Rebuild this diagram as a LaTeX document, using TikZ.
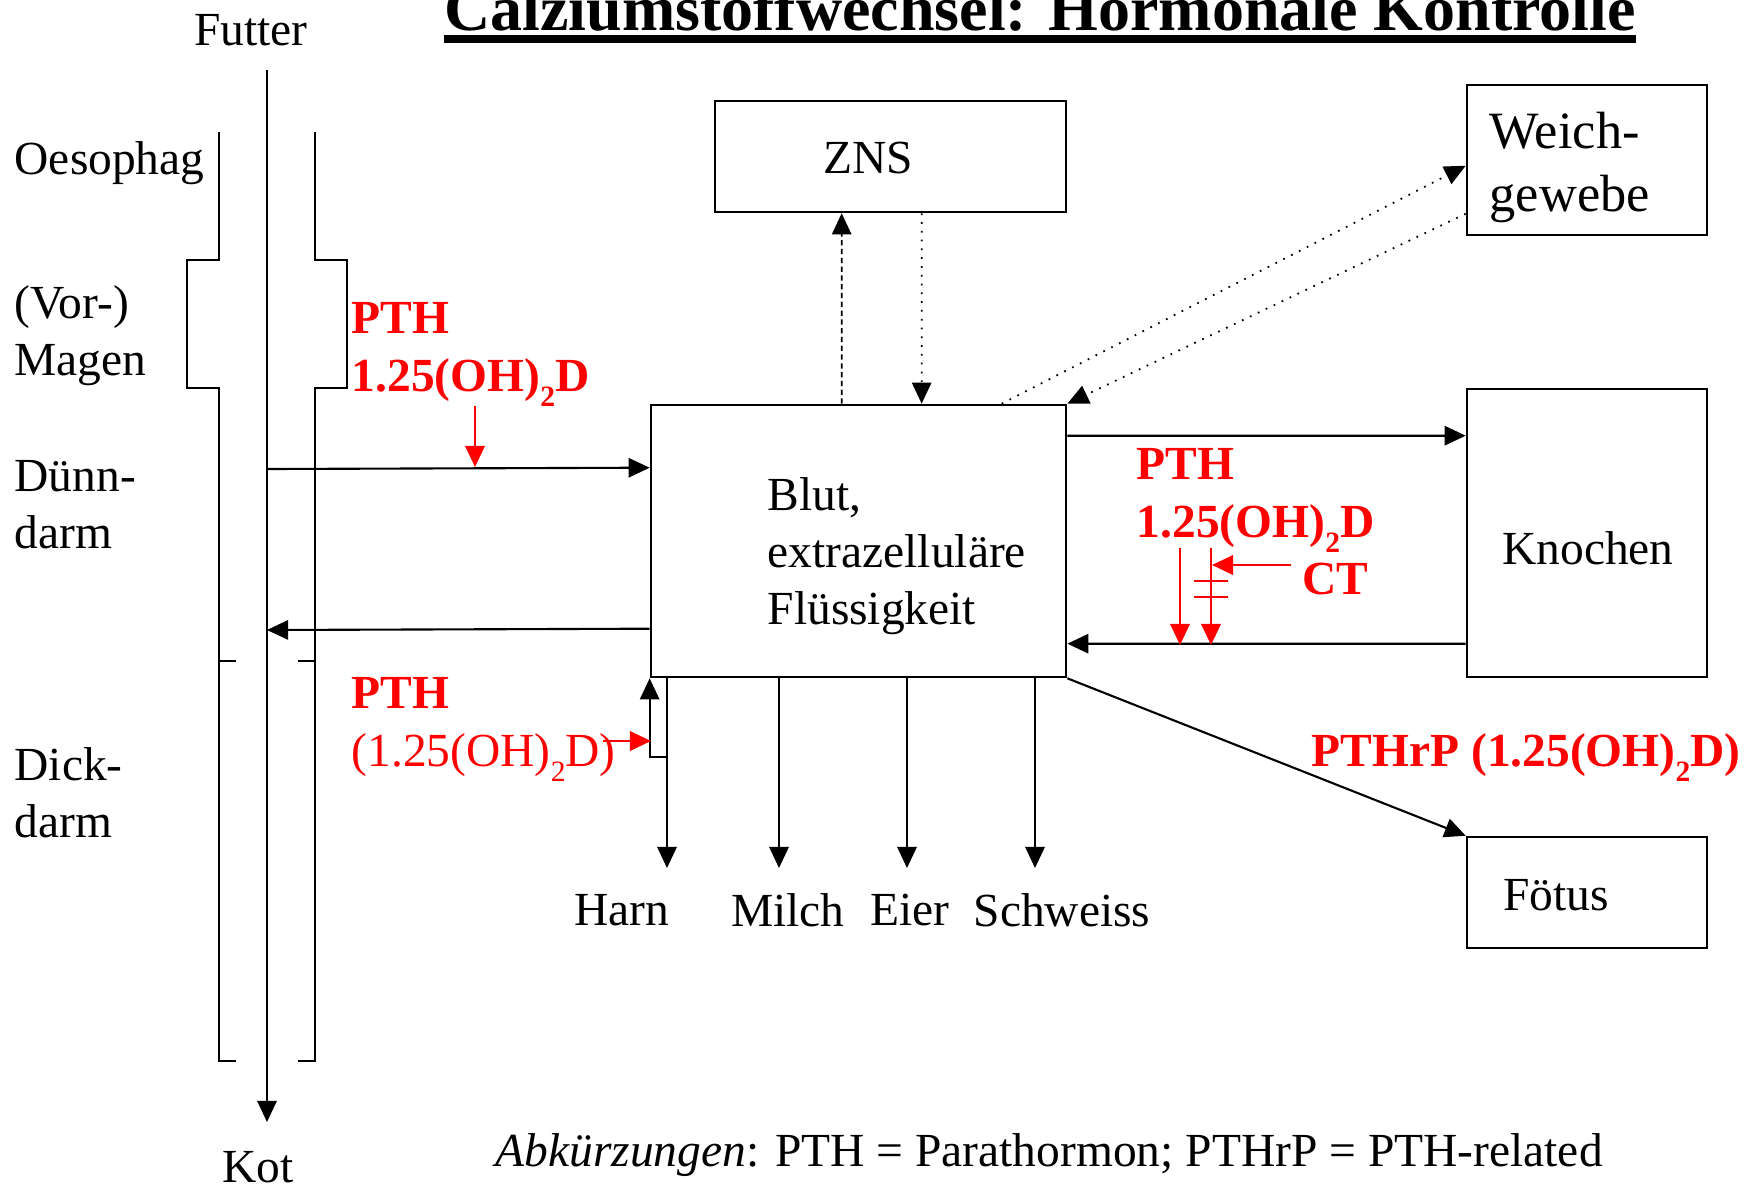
\documentclass[tikz,border=0pt]{standalone}
\usepackage{fontspec}
\setmainfont{Liberation Serif}
\usetikzlibrary{arrows.meta,calc}
\definecolor{hormred}{HTML}{FF0000}
\newcommand{\dihyd}{1.25(OH)\raisebox{-4.2pt}[0pt][0pt]{\fontsize{8.4}{9}\selectfont 2}D}

\begin{document}
\begin{tikzpicture}[x=0.01cm,y=-0.01cm,
  txt/.style={font=\fontsize{13.5}{16.2}\selectfont,inner sep=0pt},
  hormtxt/.style={txt,text=hormred,font=\fontsize{13.5}{16.5}\selectfont\bfseries,align=left,anchor=west},
  organ/.style={draw,line width=0.7pt,inner sep=0pt},
  arr/.style={-{Triangle[length=6pt,width=5.5pt]},line width=0.6pt},
  harr/.style={arr,hormred,line width=0.8pt},
  fine/.style={arr,line width=0.5pt,dotted},
  wall/.style={line width=0.6pt}]
  \useasboundingbox (0,0) rectangle (1760,1184);
  % title
  \node[txt,font=\fontsize{18.2}{20}\selectfont\bfseries,anchor=base] (title) at (1040,30) {Calziumstoffwechsel: Hormonale Kontrolle};
  \draw[line width=2pt] ($(title.base west)+(0,9)$) -- ($(title.base east)+(0,9)$);
  % gut tube
  \draw[wall] (219,132) -- (219,260) -- (187,260) -- (187,388) -- (219,388) -- (219,1061) -- ++(17,0);
  \draw[wall] (315,132) -- (315,260) -- (347,260) -- (347,388) -- (315,388) -- (315,1061) -- ++(-17,0);
  \draw[wall] (219,661) -- ++(17,0) (315,661) -- ++(-17,0);
  \node[txt] (futter) at (251,30) {Futter};
  \node[txt] (kot) at (258,1167) {Kot};
  \coordinate (gutin) at (267,70);
  \coordinate (gutout) at (267,1122);
  \draw[arr] (gutin) -- (gutout);
  \node[txt,anchor=west] (oeso) at (14,163) {Oesophag};
  \node[txt,anchor=west,align=left] (magen) at (14,336) {(Vor-)\\Magen};
  \node[txt,anchor=west,align=left] (duenn) at (14,505) {Dünn-\\darm};
  \node[txt,anchor=west,align=left] (dick) at (14,793) {Dick-\\darm};
  % compartments
  \node[organ,minimum width=4.15cm,minimum height=2.72cm] (blut) at (858.5,541) {};
  \node[txt,anchor=west,align=left] (blutlbl) at (767,556) {Blut,\\extrazelluläre\\Flüssigkeit};
  \node[organ,minimum width=3.51cm,minimum height=1.11cm] (zns) at (890.5,156.5) {};
  \node[txt] (znslbl) at (868,158) {ZNS};
  \node[organ,minimum width=2.4cm,minimum height=1.5cm] (weich) at (1587,160) {};
  \node[txt,font=\fontsize{14.9}{17.9}\selectfont,anchor=west,align=left] (weichlbl) at (1489,167) {Weich-\\gewebe};
  \node[organ,minimum width=2.4cm,minimum height=2.88cm] (knochen) at (1587,533) {};
  \node[txt] (knochenlbl) at (1588,548) {Knochen};
  \node[organ,minimum width=2.4cm,minimum height=1.11cm] (foetus) at (1587,892.5) {};
  \node[txt] (foetuslbl) at (1556,895) {Fötus};
  % fluxes
  \coordinate (absorb) at (267,469);
  \coordinate (secret) at (267,630);
  \draw[arr] (absorb) -- ($(blut.north west)+(0,64)$);
  \draw[arr] ($(blut.north west)+(0,225)$) -- (secret);
  \draw[arr] ($(blut.north east)+(0,32)$) -- ($(knochen.north west)+(0,48)$);
  \draw[arr] ($(knochen.north west)+(0,256)$) -- ($(blut.north east)+(0,240)$);
  \draw[arr] (blut.south east) -- (foetus.north west);
  \draw[fine,dash pattern=on 1.5pt off 1pt] ($(blut.north west)+(192,0)$) -- ($(zns.south west)+(128,0)$);
  \draw[fine] ($(zns.south west)+(208,0)$) -- ($(blut.north west)+(272,0)$);
  \draw[fine] ($(blut.north west)+(352,0)$) -- ($(weich.north west)+(0,82)$);
  \draw[fine] ($(weich.north west)+(0,130)$) -- (blut.north east);
  \foreach \x/\what/\lx in {667/Harn/622,779/Milch/788,907/Eier/910,1035/Schweiss/1062}{
    \draw[arr] (\x,677) -- (\x,868);
    \node[txt] (out\what) at (\lx,910) {\what};
  }
  \coordinate (reabs) at (667,757);
  \draw[arr] (reabs) -| (blut.south west);
  % hormonal control
  \node[hormtxt] (pthgut) at (351,352) {PTH\\\dihyd};
  \draw[harr] ($(absorb)+(208,-63)$) -- ++(0,61);
  \node[hormtxt] (pthharn) at (351,727) {PTH\\{\mdseries(\dihyd)}};
  \draw[harr] (603,741) -- (651,741);
  \node[hormtxt] (pthkn) at (1136,498) {PTH\\\dihyd};
  \node[hormtxt] (ct) at (1302,579) {CT};
  \draw[harr] (1180,548) -- (1180,645);
  \draw[harr] (1211,548) -- (1211,645);
  \draw[hormred,line width=0.8pt] (1194,581) -- (1228,581) (1194,597) -- (1228,597);
  \draw[harr] ($(ct.west)+(-11,-14)$) -- (1212,565);
  \node[hormtxt] (pthrp) at (1311,755) {PTHrP (\dihyd)};
  % footnote
  \node[txt,anchor=west] (abk) at (495,1155) {\textit{Abkürzungen}: PTH = Parathormon; PTHrP = PTH-related};
\end{tikzpicture}
\end{document}
